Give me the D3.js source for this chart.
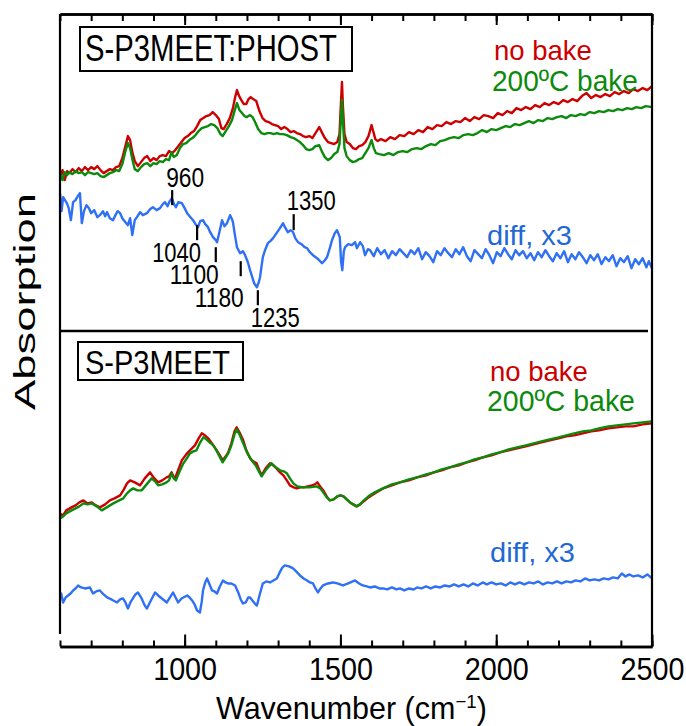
<!DOCTYPE html>
<html>
<head>
<meta charset="utf-8">
<script src="https://cdn.jsdelivr.net/npm/d3@7"></script>
<style>
  html, body { margin: 0; padding: 0; background: #fff; }
  svg { display: block; }
</style>
</head>
<body>
<svg id="chart" width="686" height="726"></svg>
<script>
// ---------- data ----------
const wavenumberDomain = [600, 2500];
const absorptionDomain = [0, 6.32];          // stacked, offset absorption (a.u.)
const minorTicks = d3.range(600, 2501, 100);
const majorTicks = [1000, 1500, 2000, 2500];

// S-P3MEET:PHOST, as cast (no bake)
const phostNoBake = [
  [600,4.70],[608,4.76],[615,4.66],[623,4.75],[630,4.73],[640,4.77],[650,4.74],[660,4.78],[670,4.75],[680,4.79],
  [690,4.76],[700,4.79],[710,4.77],[720,4.80],[730,4.76],[740,4.73],[750,4.75],[760,4.77],[770,4.76],[780,4.79],
  [790,4.80],[800,4.88],[810,5.00],[818,5.10],[825,5.06],[832,4.94],[840,4.85],[850,4.80],[860,4.84],[870,4.88],
  [880,4.90],[890,4.85],[900,4.88],[910,4.86],[920,4.90],[930,4.91],[940,4.90],[950,4.95],[960,4.93],[970,4.96],
  [980,5.00],[990,5.04],[1000,5.08],[1010,5.10],[1020,5.13],[1030,5.15],[1040,5.20],[1050,5.26],[1060,5.28],[1070,5.30],
  [1080,5.31],[1090,5.34],[1100,5.31],[1110,5.27],[1118,5.18],[1125,5.17],[1135,5.22],[1145,5.28],[1155,5.38],[1163,5.50],
  [1168,5.56],[1175,5.50],[1182,5.46],[1190,5.42],[1198,5.42],[1205,5.47],[1212,5.49],[1220,5.47],[1230,5.45],[1240,5.35],
  [1250,5.28],[1260,5.25],[1270,5.24],[1280,5.22],[1290,5.21],[1300,5.20],[1310,5.17],[1320,5.19],[1330,5.17],[1340,5.14],
  [1350,5.15],[1360,5.13],[1370,5.12],[1380,5.10],[1390,5.09],[1400,5.10],[1410,5.08],[1420,5.13],[1432,5.19],[1440,5.14],
  [1450,5.08],[1460,5.04],[1470,5.03],[1480,5.02],[1490,5.04],[1497,5.12],[1502,5.45],[1505,5.64],[1508,5.40],[1513,5.12],
  [1520,5.04],[1530,5.02],[1540,4.98],[1550,4.97],[1560,5.00],[1570,5.01],[1580,5.04],[1590,5.10],[1600,5.21],[1606,5.14],
  [1612,5.07],[1620,5.05],[1630,5.07],[1645,5.05],[1660,5.09],[1675,5.07],[1690,5.11],[1705,5.10],[1720,5.14],[1735,5.12],
  [1750,5.16],[1765,5.14],[1780,5.19],[1795,5.17],[1810,5.21],[1825,5.20],[1840,5.24],[1855,5.22],[1870,5.25],[1885,5.24],
  [1900,5.28],[1915,5.25],[1930,5.29],[1945,5.27],[1960,5.31],[1975,5.30],[1990,5.28],[2005,5.33],[2020,5.31],[2035,5.35],
  [2050,5.33],[2065,5.38],[2080,5.36],[2095,5.39],[2110,5.37],[2125,5.41],[2140,5.39],[2155,5.43],[2170,5.41],[2185,5.44],
  [2200,5.42],[2215,5.46],[2230,5.44],[2245,5.47],[2260,5.45],[2275,5.50],[2290,5.53],[2305,5.48],[2320,5.51],[2335,5.49],
  [2350,5.52],[2365,5.50],[2380,5.54],[2395,5.52],[2410,5.55],[2425,5.53],[2440,5.57],[2455,5.55],[2470,5.58],[2485,5.56],
  [2500,5.60]
];

// S-P3MEET:PHOST, 200 °C bake
const phostBaked = [
  [600,4.73],[608,4.66],[615,4.74],[623,4.71],[630,4.74],[640,4.72],[650,4.75],[660,4.73],[670,4.74],[680,4.71],
  [690,4.74],[700,4.73],[710,4.72],[720,4.73],[730,4.70],[740,4.69],[750,4.71],[760,4.73],[770,4.74],[780,4.76],
  [790,4.75],[800,4.82],[810,4.95],[818,5.03],[825,4.98],[832,4.87],[840,4.77],[850,4.75],[860,4.79],[870,4.82],
  [880,4.83],[890,4.80],[900,4.83],[910,4.82],[920,4.85],[930,4.84],[940,4.87],[950,4.86],[958,4.94],[965,4.89],
  [975,4.91],[985,4.98],[995,5.02],[1005,5.03],[1015,5.06],[1025,5.08],[1035,5.11],[1045,5.15],[1055,5.18],[1065,5.19],
  [1075,5.20],[1085,5.22],[1095,5.21],[1105,5.18],[1115,5.12],[1122,5.10],[1132,5.15],[1142,5.20],[1152,5.26],[1160,5.35],
  [1168,5.43],[1176,5.36],[1184,5.33],[1192,5.30],[1200,5.29],[1210,5.31],[1218,5.29],[1226,5.24],[1236,5.17],[1246,5.13],
  [1256,5.12],[1266,5.13],[1276,5.13],[1286,5.12],[1296,5.13],[1306,5.12],[1316,5.12],[1328,5.11],[1340,5.09],[1350,5.08],
  [1360,5.06],[1370,5.04],[1380,5.01],[1390,4.97],[1400,4.96],[1410,4.97],[1420,5.00],[1432,5.01],[1440,4.95],[1450,4.89],
  [1460,4.86],[1470,4.88],[1480,4.92],[1490,4.94],[1497,5.02],[1502,5.30],[1505,5.46],[1508,5.25],[1513,4.98],[1520,4.90],
  [1530,4.86],[1540,4.84],[1550,4.85],[1560,4.87],[1570,4.88],[1580,4.93],[1590,4.98],[1600,5.06],[1607,4.98],[1614,4.93],
  [1625,4.92],[1640,4.91],[1655,4.93],[1670,4.91],[1685,4.94],[1700,4.95],[1715,4.94],[1730,4.97],[1745,4.98],[1760,4.97],
  [1775,5.00],[1790,5.02],[1805,5.01],[1820,5.05],[1835,5.06],[1850,5.08],[1865,5.09],[1880,5.08],[1895,5.11],[1910,5.12],
  [1925,5.11],[1940,5.13],[1955,5.16],[1970,5.14],[1985,5.17],[2000,5.16],[2015,5.18],[2030,5.20],[2045,5.19],[2060,5.22],
  [2075,5.21],[2090,5.23],[2105,5.25],[2120,5.23],[2135,5.26],[2150,5.25],[2165,5.28],[2180,5.27],[2195,5.29],[2210,5.30],
  [2225,5.28],[2240,5.31],[2255,5.30],[2270,5.32],[2285,5.31],[2300,5.34],[2315,5.33],[2330,5.35],[2345,5.34],[2360,5.36],
  [2375,5.35],[2390,5.37],[2405,5.36],[2420,5.38],[2435,5.37],[2450,5.39],[2465,5.38],[2480,5.40],[2500,5.39]
];

// S-P3MEET:PHOST, difference spectrum (x3, offset)
const phostDiff = [
  [600,4.53],[605,4.35],[610,4.49],[616,4.46],[622,4.43],[628,4.38],[635,4.26],[642,4.44],[650,4.46],[657,4.50],
  [664,4.53],[670,4.23],[677,4.35],[685,4.41],[693,4.38],[700,4.33],[710,4.36],[720,4.29],[728,4.31],[738,4.35],
  [745,4.30],[751,4.34],[760,4.28],[770,4.26],[778,4.31],[785,4.35],[793,4.33],[800,4.28],[810,4.24],[818,4.21],
  [825,4.28],[832,4.11],[840,4.26],[847,4.29],[857,4.34],[866,4.31],[879,4.33],[889,4.37],[898,4.39],[910,4.36],
  [921,4.38],[930,4.42],[937,4.44],[945,4.40],[952,4.45],[959,4.48],[966,4.42],[972,4.39],[980,4.44],[991,4.43],
  [1000,4.38],[1008,4.33],[1016,4.30],[1027,4.26],[1035,4.22],[1043,4.19],[1050,4.25],[1059,4.26],[1066,4.22],[1075,4.19],
  [1082,4.14],[1091,4.09],[1100,4.06],[1104,4.04],[1113,4.16],[1120,4.26],[1128,4.20],[1136,4.23],[1146,4.31],[1152,4.27],
  [1155,4.24],[1162,4.10],[1168,3.99],[1178,3.93],[1187,3.95],[1194,3.91],[1203,3.84],[1210,3.76],[1218,3.68],[1223,3.63],
  [1232,3.59],[1238,3.64],[1242,3.69],[1251,3.89],[1258,3.96],[1267,4.03],[1275,4.05],[1284,4.08],[1295,4.13],[1306,4.18],
  [1316,4.23],[1322,4.19],[1331,4.14],[1340,4.16],[1348,4.14],[1355,4.08],[1364,4.04],[1375,4.02],[1385,3.99],[1393,3.98],
  [1402,3.94],[1412,3.91],[1425,3.88],[1441,3.83],[1450,3.86],[1457,3.89],[1466,3.98],[1473,4.06],[1482,4.13],[1489,4.16],
  [1498,4.09],[1502,3.85],[1506,3.76],[1511,3.95],[1515,3.99],[1525,4.02],[1537,4.01],[1547,4.04],[1553,3.98],[1563,4.04],
  [1572,4.00],[1579,3.91],[1588,3.97],[1595,3.96],[1607,3.90],[1618,3.98],[1630,3.92],[1642,3.96],[1654,3.88],[1666,3.95],
  [1678,3.91],[1690,3.97],[1702,3.93],[1714,3.89],[1726,3.96],[1738,3.92],[1750,3.98],[1762,3.87],[1774,3.94],[1786,3.90],
  [1798,3.84],[1810,3.95],[1822,3.91],[1834,3.98],[1846,3.93],[1858,3.89],[1870,3.97],[1882,3.92],[1894,3.99],[1906,3.90],
  [1918,3.85],[1930,3.96],[1942,3.92],[1954,3.88],[1966,3.97],[1978,3.91],[1990,3.83],[2002,3.94],[2014,3.90],[2026,3.98],
  [2038,3.92],[2050,3.87],[2062,3.96],[2074,3.91],[2086,3.95],[2098,3.88],[2110,3.93],[2122,3.86],[2134,3.94],[2146,3.89],
  [2158,3.96],[2170,3.90],[2182,3.85],[2194,3.93],[2206,3.88],[2218,3.95],[2230,3.84],[2242,3.92],[2254,3.87],[2266,3.94],
  [2278,3.89],[2290,3.83],[2302,3.91],[2314,3.86],[2326,3.92],[2338,3.82],[2350,3.89],[2362,3.85],[2374,3.91],[2386,3.80],
  [2398,3.88],[2410,3.84],[2422,3.90],[2434,3.78],[2446,3.87],[2458,3.82],[2470,3.88],[2482,3.79],[2490,3.85],[2500,3.78]
];

// S-P3MEET, as cast (no bake)
const meetNoBake = [
  [600,1.33],[610,1.31],[620,1.36],[637,1.39],[650,1.41],[662,1.44],[675,1.46],[688,1.43],[702,1.44],[715,1.41],
  [728,1.39],[745,1.42],[760,1.46],[775,1.48],[793,1.51],[805,1.57],[815,1.63],[825,1.66],[840,1.64],[857,1.61],
  [872,1.68],[889,1.74],[900,1.69],[915,1.64],[928,1.66],[942,1.69],[950,1.70],[958,1.74],[964,1.70],[969,1.68],
  [980,1.77],[991,1.86],[1005,1.92],[1017,1.96],[1033,2.01],[1045,2.08],[1055,2.13],[1065,2.11],[1076,2.08],[1090,2.02],
  [1103,1.96],[1113,1.91],[1122,1.86],[1132,1.90],[1140,1.94],[1150,2.03],[1160,2.15],[1167,2.19],[1176,2.14],[1188,2.06],
  [1198,1.96],[1210,1.88],[1220,1.85],[1231,1.83],[1240,1.76],[1247,1.71],[1260,1.78],[1274,1.83],[1285,1.81],[1295,1.78],
  [1306,1.74],[1317,1.71],[1328,1.66],[1338,1.61],[1350,1.59],[1360,1.58],[1372,1.59],[1381,1.59],[1395,1.60],[1408,1.61],
  [1418,1.62],[1426,1.64],[1435,1.60],[1445,1.56],[1456,1.50],[1466,1.46],[1478,1.47],[1490,1.50],[1500,1.51],[1510,1.50],
  [1520,1.47],[1531,1.44],[1541,1.42],[1552,1.40],[1563,1.42],[1575,1.45],[1590,1.49],[1610,1.53],[1637,1.58],[1665,1.61],
  [1691,1.64],[1720,1.66],[1746,1.69],[1775,1.71],[1800,1.74],[1825,1.76],[1851,1.79],[1880,1.81],[1905,1.84],[1930,1.86],
  [1957,1.89],[1985,1.91],[2012,1.94],[2040,1.96],[2067,1.98],[2095,2.00],[2120,2.02],[2145,2.04],[2172,2.06],[2200,2.08],
  [2225,2.10],[2250,2.11],[2278,2.13],[2305,2.15],[2330,2.16],[2360,2.18],[2387,2.19],[2415,2.20],[2440,2.20],[2470,2.22],
  [2500,2.23]
];

// S-P3MEET, 200 °C bake
const meetBaked = [
  [600,1.28],[610,1.30],[620,1.33],[637,1.36],[650,1.38],[662,1.40],[675,1.43],[688,1.42],[702,1.43],[718,1.40],
  [734,1.36],[750,1.39],[771,1.43],[790,1.46],[803,1.48],[815,1.53],[825,1.56],[835,1.58],[848,1.56],[862,1.56],
  [878,1.62],[894,1.68],[905,1.65],[915,1.61],[928,1.62],[942,1.64],[950,1.66],[958,1.73],[965,1.68],[972,1.66],
  [984,1.75],[996,1.83],[1007,1.88],[1017,1.93],[1028,1.95],[1038,1.96],[1050,2.04],[1060,2.09],[1070,2.07],[1080,2.04],
  [1092,2.01],[1102,1.96],[1112,1.90],[1122,1.84],[1132,1.89],[1140,1.93],[1150,2.01],[1160,2.12],[1167,2.17],[1176,2.12],
  [1188,2.03],[1200,1.94],[1215,1.86],[1230,1.80],[1240,1.74],[1247,1.70],[1262,1.77],[1279,1.83],[1292,1.79],[1306,1.76],
  [1318,1.75],[1328,1.73],[1338,1.68],[1349,1.63],[1362,1.60],[1381,1.59],[1400,1.59],[1424,1.60],[1435,1.58],[1445,1.54],
  [1456,1.49],[1466,1.46],[1478,1.47],[1490,1.50],[1500,1.51],[1510,1.50],[1520,1.47],[1531,1.44],[1541,1.42],[1552,1.40],
  [1563,1.42],[1575,1.46],[1590,1.50],[1610,1.54],[1637,1.58],[1665,1.62],[1691,1.64],[1720,1.67],[1746,1.69],[1775,1.72],
  [1800,1.74],[1825,1.77],[1851,1.79],[1880,1.82],[1905,1.84],[1930,1.87],[1957,1.89],[1985,1.92],[2012,1.94],[2040,1.97],
  [2067,1.99],[2095,2.01],[2120,2.03],[2145,2.05],[2172,2.07],[2200,2.09],[2225,2.11],[2250,2.13],[2278,2.15],[2305,2.16],
  [2330,2.18],[2360,2.20],[2387,2.21],[2415,2.22],[2440,2.23],[2470,2.24],[2500,2.25]
];

// S-P3MEET, difference spectrum (x3, offset)
const meetDiff = [
  [603,0.54],[610,0.44],[618,0.49],[626,0.51],[634,0.53],[642,0.56],[650,0.58],[658,0.61],[668,0.59],[680,0.58],
  [696,0.59],[706,0.53],[716,0.55],[728,0.56],[740,0.52],[751,0.49],[765,0.47],[783,0.44],[793,0.47],[802,0.48],
  [810,0.44],[818,0.38],[826,0.44],[834,0.48],[842,0.52],[850,0.54],[862,0.48],[872,0.41],[879,0.38],[890,0.45],
  [905,0.54],[915,0.51],[927,0.48],[935,0.46],[943,0.44],[953,0.49],[963,0.54],[971,0.49],[979,0.44],[990,0.48],
  [1008,0.51],[1016,0.49],[1024,0.46],[1032,0.42],[1040,0.36],[1049,0.34],[1055,0.45],[1059,0.56],[1066,0.64],[1072,0.68],
  [1080,0.62],[1088,0.56],[1096,0.55],[1104,0.53],[1113,0.60],[1123,0.66],[1131,0.64],[1139,0.63],[1150,0.63],[1162,0.61],
  [1172,0.54],[1180,0.47],[1187,0.43],[1196,0.44],[1204,0.49],[1210,0.49],[1220,0.45],[1228,0.42],[1232,0.41],[1241,0.52],
  [1251,0.63],[1262,0.65],[1274,0.64],[1285,0.66],[1296,0.68],[1305,0.74],[1314,0.79],[1322,0.81],[1335,0.80],[1348,0.78],
  [1358,0.75],[1370,0.71],[1382,0.68],[1393,0.66],[1402,0.64],[1412,0.63],[1420,0.58],[1428,0.54],[1436,0.58],[1444,0.61],
  [1460,0.63],[1476,0.64],[1490,0.63],[1508,0.61],[1525,0.63],[1547,0.66],[1560,0.63],[1572,0.61],[1585,0.60],[1595,0.59],
  [1610,0.60],[1625,0.58],[1637,0.58],[1650,0.57],[1665,0.59],[1680,0.57],[1691,0.58],[1705,0.56],[1720,0.58],[1735,0.57],
  [1746,0.59],[1760,0.58],[1775,0.60],[1790,0.58],[1805,0.60],[1820,0.59],[1835,0.61],[1851,0.60],[1865,0.62],[1880,0.60],
  [1895,0.62],[1910,0.60],[1925,0.63],[1940,0.61],[1957,0.64],[1970,0.62],[1985,0.64],[2000,0.62],[2015,0.63],[2030,0.61],
  [2045,0.64],[2060,0.62],[2075,0.64],[2090,0.62],[2105,0.64],[2120,0.63],[2135,0.65],[2150,0.62],[2165,0.64],[2180,0.63],
  [2195,0.65],[2210,0.63],[2225,0.65],[2240,0.64],[2255,0.66],[2270,0.65],[2285,0.68],[2300,0.66],[2315,0.67],[2330,0.66],
  [2345,0.68],[2360,0.67],[2375,0.69],[2390,0.68],[2403,0.73],[2415,0.70],[2428,0.72],[2440,0.70],[2455,0.71],[2470,0.69],
  [2485,0.72],[2500,0.68]
];

// assigned bands marked on the PHOST difference spectrum
const bandLabels = ["960", "1350", "1040", "1100", "1180", "1235"];
const bandWavenumbers = [960, 1350, 1040, 1100, 1180, 1235];

// ---------- layout ----------
const W = 686, H = 726;
const plot = { left: 60, right: 652, top: 14, bottom: 646.5, divider: 331 };
const FONT = "'Liberation Sans', Arial, Helvetica, sans-serif";
const RED = "#cc0000", GREEN = "#0b8a0b", BLUE = "#2f70f5", BLUE_TEXT = "#1f69d4";

// where each band marker sits (tick ends and label baseline, in absorption units)
const bandLayout = {
  "960":  { y0: 4.56, y1: 4.41, ty: 4.59, anchor: "start", dx: -6 },
  "1350": { y0: 4.32, y1: 4.16, ty: 4.36, anchor: "start", dx: -7 },
  "1040": { y0: 4.21, y1: 4.06, ty: 3.84, anchor: "end",   dx: 4 },
  "1100": { y0: 3.99, y1: 3.84, ty: 3.62, anchor: "end",   dx: 3 },
  "1180": { y0: 3.85, y1: 3.70, ty: 3.39, anchor: "end",   dx: 3 },
  "1235": { y0: 3.56, y1: 3.41, ty: 3.19, anchor: "start", dx: -7 }
};

const svg = d3.select("#chart");
const x = d3.scaleLinear().domain(wavenumberDomain).range([plot.left, plot.right]);
const y = d3.scaleLinear().domain(absorptionDomain).range([plot.bottom, plot.top]);

// place a text so its drawn width equals `width` (horizontal stretch only)
function fitText(sel, width) {
  const w = sel.node().getBBox().width;
  const k = width / w;
  const t = sel.attr("transform") || "";
  sel.attr("transform", t + ` scale(${k},1)`);
  return sel;
}

function label(text, px, py, size, width, color, anchor = "start") {
  const t = svg.append("text")
    .attr("transform", `translate(${px},${py})`)
    .attr("font-family", FONT)
    .attr("font-size", size)
    .attr("fill", color)
    .attr("text-anchor", anchor)
    .text(text);
  fitText(t, width);
  return t;
}

// ---------- spectra ----------
const line = d3.line().x(d => x(d[0])).y(d => y(d[1])).curve(d3.curveLinear);
const series = [
  { data: phostNoBake, color: RED },
  { data: phostBaked,  color: GREEN },
  { data: phostDiff,   color: BLUE },
  { data: meetNoBake,  color: RED },
  { data: meetBaked,   color: GREEN },
  { data: meetDiff,    color: BLUE }
];
svg.append("g").selectAll("path").data(series).join("path")
  .attr("d", d => line(d.data))
  .attr("fill", "none")
  .attr("stroke", d => d.color)
  .attr("stroke-width", 2.4)
  .attr("stroke-linejoin", "round");

// ---------- frame and axes ----------
const frame = svg.append("g").attr("stroke", "#000").attr("fill", "none");
frame.append("line").attr("x1", plot.left).attr("x2", plot.left)
  .attr("y1", plot.top).attr("y2", 634).attr("stroke-width", 2.2);
frame.append("line").attr("x1", plot.right).attr("x2", plot.right)
  .attr("y1", plot.top).attr("y2", plot.bottom).attr("stroke-width", 2.2);
frame.append("line").attr("x1", plot.left).attr("x2", 648)
  .attr("y1", plot.divider).attr("y2", plot.divider).attr("stroke-width", 2.4);

function styleAxis(g) {
  g.select(".domain").attr("stroke-width", 2.6);
  g.selectAll(".tick line").attr("stroke-width", 2);
}

// top axis: ticks only
svg.append("g").attr("transform", `translate(0,${plot.top})`)
  .call(d3.axisTop(x).tickValues(minorTicks).tickSize(-7).tickSizeOuter(0).tickFormat(""))
  .call(styleAxis);
svg.append("g").attr("transform", `translate(0,${plot.top})`)
  .call(d3.axisTop(x).tickValues(majorTicks).tickSize(-11).tickSizeOuter(0).tickFormat(""))
  .call(styleAxis);

// bottom axis with labelled major ticks
svg.append("g").attr("transform", `translate(0,${plot.bottom})`)
  .call(d3.axisBottom(x).tickValues(minorTicks).tickSize(-6).tickSizeOuter(0).tickFormat(""))
  .call(styleAxis);
const bottomMajor = svg.append("g").attr("transform", `translate(0,${plot.bottom})`)
  .call(d3.axisBottom(x).tickValues(majorTicks).tickSize(-12).tickSizeOuter(0).tickFormat(d3.format("d")))
  .call(styleAxis);
bottomMajor.selectAll(".tick text")
  .attr("font-family", FONT).attr("font-size", 32).attr("fill", "#000")
  .attr("y", 680 - plot.bottom).attr("dy", 0)
  .each(function () { fitText(d3.select(this), 64); });

// axis titles
const xTitle = svg.append("text")
  .attr("transform", "translate(216,719)")
  .attr("font-family", FONT).attr("font-size", 31).attr("fill", "#000");
xTitle.append("tspan").text("Wavenumber (cm");
xTitle.append("tspan").attr("font-size", 19).attr("dy", -11).text("\u22121");
xTitle.append("tspan").attr("dy", 11).text(")");
fitText(xTitle, 271);

const yTitle = svg.append("text")
  .attr("transform", "translate(35,301.5) rotate(-90)")
  .attr("font-family", FONT).attr("font-size", 30).attr("fill", "#000")
  .attr("text-anchor", "middle")
  .text("Absorption");
fitText(yTitle, 217);

// ---------- panel labels ----------
svg.append("rect").attr("x", 80).attr("y", 27).attr("width", 272).attr("height", 44)
  .attr("fill", "#fff").attr("stroke", "#000").attr("stroke-width", 2);
label("S-P3MEET:PHOST", 85, 61, 36, 252, "#000");
svg.append("rect").attr("x", 78).attr("y", 342).attr("width", 165).attr("height", 38)
  .attr("fill", "#fff").attr("stroke", "#000").attr("stroke-width", 2);
label("S-P3MEET", 85, 374, 33, 145, "#000");

// legends
label("no bake", 494, 60, 27, 98, RED);
label("200\u00baC bake", 492, 90.5, 30, 146, GREEN);
label("no bake", 490, 380.5, 27, 98, RED);
label("200\u00baC bake", 487, 411, 30, 148, GREEN);
label("diff, x3", 487, 245, 28, 85, BLUE_TEXT);
label("diff, x3", 490, 561.5, 28, 85, BLUE_TEXT);

// ---------- band markers ----------
bandWavenumbers.forEach((wn, i) => {
  const name = bandLabels[i];
  const L = bandLayout[name];
  svg.append("line")
    .attr("x1", x(wn)).attr("x2", x(wn))
    .attr("y1", y(L.y0)).attr("y2", y(L.y1))
    .attr("stroke", "#000").attr("stroke-width", 2.2);
  label(name, x(wn) + L.dx, y(L.ty), 28, name.length === 3 ? 38 : 49, "#000", L.anchor);
});
</script>
</body>
</html>
